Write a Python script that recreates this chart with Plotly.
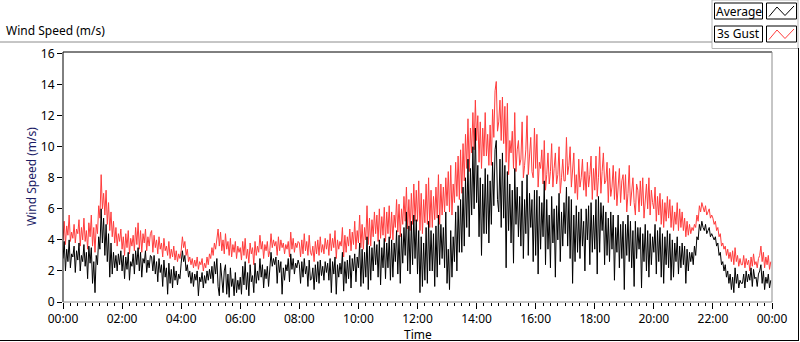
import plotly.graph_objects as go
import pandas as pd

# 3s gust (m/s), one value every 2.5 minutes (24 per hour)
gust = [
    4.0,5.2,3.7,4.9,4.3,5.6,3.9,4.5,4.1,5.0,3.8,4.7,4.4,5.3,3.6,4.8,4.0,5.4,3.9,4.6,3.4,5.1,4.2,5.6,
    3.6,4.8,3.2,5.0,4.4,6.2,5.4,8.2,6.0,7.0,5.6,7.2,5.0,6.4,4.6,5.8,4.2,5.2,3.8,4.8,3.6,4.4,3.9,4.7,
    3.4,4.2,3.0,4.4,3.5,4.6,3.1,4.1,3.6,4.3,3.3,4.8,3.7,5.1,3.4,4.6,3.2,4.4,3.8,4.7,3.3,4.2,3.6,4.4,
    4.6,3.2,4.3,3.5,4.0,3.1,4.2,3.4,3.8,2.9,4.1,3.3,3.6,3.0,3.9,2.8,3.4,2.9,3.6,2.7,3.3,2.6,3.1,2.8,
    3.3,4.2,3.5,3.9,3.0,3.4,2.6,2.9,2.4,2.8,2.2,2.7,2.3,2.9,2.1,2.6,2.4,2.8,2.0,2.5,2.2,2.9,2.4,3.1,
    2.8,3.5,3.0,3.8,3.4,4.2,4.7,3.6,4.5,3.3,4.0,3.1,4.4,3.4,3.9,3.0,4.1,2.9,3.7,3.2,3.9,2.8,3.6,3.2,
    3.5,2.7,3.9,3.0,4.1,2.8,3.4,2.5,3.8,3.1,3.5,2.4,3.9,3.0,3.6,3.2,4.3,3.4,3.9,2.8,3.7,3.3,3.9,2.9,
    3.3,4.4,3.5,4.0,3.6,3.9,3.0,4.2,3.3,4.0,3.5,3.8,3.1,3.7,3.4,3.9,2.9,4.5,3.4,4.1,3.2,3.8,3.5,3.9,
    3.8,2.9,4.0,3.1,4.4,3.3,3.9,3.0,4.3,3.2,3.0,3.6,2.6,3.9,3.1,4.0,3.0,4.2,3.2,3.7,3.1,4.1,3.4,4.0,
    3.0,4.4,3.3,4.1,3.5,4.6,2.8,4.0,3.4,3.9,3.6,4.8,2.9,4.3,3.2,4.2,3.6,4.7,3.3,4.5,3.7,5.2,3.4,4.6,
    3.8,5.6,3.5,5.0,3.4,4.8,4.0,6.2,3.7,5.4,3.6,5.3,4.2,5.8,4.4,5.6,3.9,6.0,4.1,5.5,4.3,6.1,3.9,5.8,
    4.4,6.2,4.1,5.8,4.0,5.6,4.8,6.6,4.5,6.3,4.2,6.0,5.0,6.8,5.2,7.4,4.7,6.6,4.6,7.0,5.0,7.6,5.2,7.2,
    5.2,7.8,4.6,7.0,4.4,6.6,5.1,7.6,5.0,8.0,4.8,7.2,4.8,6.8,5.3,7.4,5.4,8.2,5.0,7.6,5.6,7.4,5.8,8.0,
    6.2,8.4,5.8,8.8,5.6,7.6,6.4,9.0,6.8,9.4,6.6,9.8,7.0,10.2,7.8,10.8,8.6,11.8,8.4,11.2,9.6,12.2,9.8,13.0,
    10.4,12.0,9.0,11.6,8.6,11.2,9.4,12.2,9.4,10.8,8.8,11.4,8.8,12.4,10.6,13.6,14.2,11.0,11.6,13.0,10.4,13.2,10.2,12.6,
    9.0,12.8,8.2,10.4,9.6,11.0,8.6,12.2,8.4,9.8,10.4,8.8,9.2,11.6,8.0,8.8,9.8,12.0,8.2,9.4,10.6,8.4,8.0,11.2,
    8.6,10.8,7.4,9.0,8.6,9.8,7.6,10.4,7.2,8.2,9.6,7.6,8.4,10.2,7.4,8.6,9.6,7.6,8.2,10.0,7.0,8.0,9.2,7.8,
    7.8,10.6,8.2,8.8,10.0,7.4,8.4,9.6,7.0,8.2,6.6,9.2,7.4,8.0,9.2,7.2,8.4,6.8,9.0,7.4,8.2,9.4,6.6,8.6,
    7.2,9.4,6.8,8.0,10.0,7.0,8.4,9.6,7.6,7.8,9.0,6.4,8.6,6.8,7.4,8.8,6.6,8.4,6.2,7.4,8.6,6.4,7.8,8.2,
    6.6,8.2,5.8,7.0,8.8,6.2,7.2,8.0,6.4,5.6,7.6,7.2,5.8,7.8,6.2,8.0,5.4,6.6,7.6,6.0,8.0,5.6,7.2,6.4,
    6.0,7.4,5.2,6.8,5.6,7.0,5.0,6.6,4.8,6.4,5.2,6.8,5.4,6.6,4.8,6.2,4.6,5.8,5.0,6.4,4.6,6.0,4.8,5.8,
    4.6,5.4,4.2,5.2,4.3,5.0,4.4,4.8,4.6,5.0,4.8,5.6,5.2,6.2,5.8,6.4,6.0,5.8,6.2,5.6,5.8,6.0,5.4,5.6,
    5.4,5.0,5.2,4.6,4.8,4.2,4.4,3.6,3.8,3.4,3.6,3.0,3.4,2.8,3.2,2.6,3.3,2.4,3.5,2.6,3.0,2.3,2.8,2.4,
    2.4,3.0,2.2,2.8,2.4,2.7,2.0,2.9,2.3,3.1,2.4,2.6,2.2,2.8,3.0,3.6,2.6,3.2,2.2,2.9,2.4,3.0,2.1,2.6,
]

# average wind speed (m/s), same times
average = [
    2.8,3.9,2.0,3.4,2.6,4.0,2.2,3.1,2.9,3.6,1.9,3.3,2.7,3.8,2.0,3.0,2.6,3.7,2.3,3.2,1.5,3.6,2.5,3.5,
    1.2,2.6,0.6,3.0,2.4,4.2,3.4,6.0,3.8,5.4,3.0,5.0,2.6,4.4,1.6,3.8,1.8,3.2,2.2,3.0,2.0,3.1,2.4,3.3,
    2.0,3.0,1.5,2.9,2.1,3.2,1.4,2.6,2.3,3.1,1.8,3.3,2.4,3.5,2.0,3.2,1.6,2.8,2.5,3.3,1.9,2.7,2.2,3.0,
    2.9,2.0,3.0,1.8,2.6,1.3,2.8,1.9,2.4,1.0,2.7,1.6,2.2,0.5,2.5,1.2,2.1,0.9,2.3,1.4,2.0,1.1,1.8,1.5,
    2.5,3.3,2.6,3.0,2.0,2.4,1.6,2.0,1.2,1.9,1.0,1.8,1.4,2.0,0.4,1.6,1.3,1.9,0.9,1.7,1.2,2.0,1.4,2.1,
    1.5,2.3,1.2,2.6,1.8,2.8,1.0,0.4,2.5,1.4,0.6,2.0,2.4,0.5,1.8,0.3,2.2,1.0,1.5,0.4,1.9,0.6,1.4,0.8,
    1.6,0.5,2.3,1.1,2.6,0.8,1.9,0.4,2.4,1.3,1.7,0.6,2.5,1.2,2.0,1.4,2.8,1.6,2.4,0.9,2.1,1.5,2.3,1.0,
    2.1,3.2,2.3,2.8,2.4,2.9,1.2,2.7,1.9,2.6,0.5,2.2,1.4,2.4,2.0,2.8,1.3,3.1,2.1,2.8,1.8,2.5,2.2,2.7,
    2.4,1.2,2.6,1.6,2.8,1.8,2.3,1.0,2.7,1.4,1.5,2.2,0.8,2.4,1.3,2.6,1.2,2.7,1.7,2.3,1.4,2.6,1.9,2.5,
    1.4,2.8,0.6,2.6,1.8,2.9,0.5,2.4,1.6,2.5,1.8,3.2,0.7,2.6,1.2,2.7,1.5,3.0,0.9,2.8,2.0,3.1,1.3,2.9,
    2.2,3.8,1.0,3.4,1.2,3.2,1.6,4.2,0.8,3.6,1.4,3.5,2.0,3.9,2.4,3.7,1.6,4.0,1.1,3.5,2.2,4.1,1.5,3.8,
    2.2,4.2,1.4,4.0,1.6,3.8,2.6,4.6,1.8,4.3,1.2,4.4,2.5,4.8,3.0,5.8,2.0,4.9,1.8,5.2,2.4,5.6,2.8,5.3,
    1.8,4.6,0.6,4.2,1.0,3.8,1.4,4.8,1.2,5.2,2.0,4.6,2.0,4.4,1.0,4.9,1.6,5.6,2.4,5.0,2.8,4.8,2.2,5.8,
    1.2,3.4,0.8,4.6,1.6,4.2,2.6,5.8,2.0,6.2,3.2,6.6,3.2,7.4,3.6,8.0,4.8,9.2,4.2,8.6,5.6,10.0,6.0,11.2,
    6.4,8.8,4.2,8.0,3.0,7.6,4.4,8.6,4.4,8.2,3.8,7.8,5.0,9.0,6.2,9.8,10.4,6.6,5.8,9.2,4.8,9.6,5.4,8.8,
    2.2,8.4,4.6,7.6,3.8,7.2,2.5,8.6,5.0,7.4,4.2,6.8,3.6,7.8,2.8,6.6,4.4,8.2,3.0,7.0,4.8,6.6,2.6,7.2,
    3.0,7.2,1.8,6.8,3.4,6.4,4.2,7.8,2.4,6.6,3.4,5.6,2.2,6.8,3.8,6.0,1.6,6.2,4.0,7.0,2.6,5.8,3.6,6.4,
    4.4,7.4,3.6,6.8,2.8,6.6,1.2,5.6,2.6,6.2,3.2,5.8,2.8,6.0,3.6,5.2,2.0,6.0,4.0,6.2,2.4,6.4,3.2,5.6,
    3.4,6.6,1.8,6.8,3.2,6.4,4.6,6.2,2.4,5.8,3.0,5.4,2.6,5.8,3.4,5.6,1.4,4.8,3.2,5.6,2.2,5.0,2.8,5.2,
    0.8,5.0,3.0,5.6,2.6,5.2,2.2,4.6,1.0,5.2,2.8,4.8,3.4,4.8,0.9,4.4,2.6,5.0,2.0,4.6,1.6,4.4,2.4,4.2,
    3.2,5.0,1.8,4.6,2.6,4.8,1.6,4.4,1.2,4.2,2.4,4.6,2.2,4.4,1.4,4.0,1.6,3.8,2.6,4.2,1.8,3.6,2.2,3.8,
    2.4,3.6,1.2,3.4,2.0,3.2,2.6,3.2,2.4,3.6,3.0,4.2,4.0,5.0,4.6,5.2,4.8,4.6,5.0,4.4,4.6,4.8,4.2,4.4,
    4.2,4.0,4.2,3.6,3.8,3.0,3.2,2.4,2.6,2.0,2.4,1.6,2.0,1.2,1.8,0.8,1.6,0.6,2.2,1.2,1.8,0.9,1.4,1.2,
    1.2,1.8,0.9,2.0,1.3,1.8,1.4,2.2,1.0,2.1,1.5,1.6,1.0,1.8,2.0,2.4,1.2,2.0,0.8,1.6,1.2,1.8,0.9,1.4,
]

x_tick_labels = ["00:00", "02:00", "04:00", "06:00", "08:00", "10:00", "12:00",
                 "14:00", "16:00", "18:00", "20:00", "22:00", "00:00"]
y_tick_vals = [0, 2, 4, 6, 8, 10, 12, 14, 16]
series_names = ["Average", "3s Gust"]

start = pd.Timestamp("2024-01-01 00:00")
times_gust = pd.date_range(start, periods=len(gust), freq="150s")
times_avg = pd.date_range(start, periods=len(average), freq="150s")
tick_times = pd.date_range(start, periods=len(x_tick_labels), freq="2h")

RED = "#ff3c3c"
FONT = "Noto Sans"

fig = go.Figure()
fig.add_trace(go.Scatter(x=times_gust, y=gust, mode="lines", name=series_names[1],
                         line=dict(color=RED, width=1), showlegend=False,
                         hoverinfo="skip"))
fig.add_trace(go.Scatter(x=times_avg, y=average, mode="lines", name=series_names[0],
                         line=dict(color="black", width=1), showlegend=False,
                         hoverinfo="skip"))

L, R, T, B = 63, 772, 52, 302
W, H = 800, 342
pw, ph = R - L, B - T


def px(x):
    return (x - L) / pw


def py(y):
    return (B - y) / ph


shapes = []
# plot border: black top/left, gray bottom/right
shapes.append(dict(type="line", xref="paper", yref="paper", x0=0, x1=1, y0=1, y1=1,
                   line=dict(color="black", width=1)))
shapes.append(dict(type="line", xref="paper", yref="paper", x0=0, x1=0, y0=0, y1=1,
                   line=dict(color="black", width=1)))
shapes.append(dict(type="line", xref="paper", yref="paper", x0=1, x1=1, y0=0, y1=1,
                   line=dict(color="#8c8c8c", width=1)))
shapes.append(dict(type="line", xref="paper", yref="paper", x0=0, x1=1, y0=0, y1=0,
                   line=dict(color="#8c8c8c", width=1)))
# outer frame
shapes.append(dict(type="line", xref="paper", yref="paper", x0=px(0), x1=px(712),
                   y0=py(42), y1=py(42), line=dict(color="#8c8c8c", width=1)))
shapes.append(dict(type="line", xref="paper", yref="paper", x0=px(798.5), x1=px(798.5),
                   y0=py(48), y1=py(341), line=dict(color="black", width=1)))
shapes.append(dict(type="line", xref="paper", yref="paper", x0=px(0), x1=px(799),
                   y0=py(340.5), y1=py(340.5), line=dict(color="black", width=1)))
# legend panel
shapes.append(dict(type="rect", xref="paper", yref="paper", x0=px(712), x1=px(798),
                   y0=py(0), y1=py(48.5), line=dict(color="#b4b4b4", width=1),
                   fillcolor="white", layer="below"))
# legend boxes
for i, (y0, y1) in enumerate([(3, 19), (26, 42)]):
    shapes.append(dict(type="rect", xref="paper", yref="paper", x0=px(714.5), x1=px(762.5),
                       y0=py(y0), y1=py(y1), line=dict(color="black", width=1),
                       fillcolor="white"))
    shapes.append(dict(type="rect", xref="paper", yref="paper", x0=px(766.5), x1=px(796.5),
                       y0=py(y0), y1=py(y1), line=dict(color="black", width=1),
                       fillcolor="white"))
    col = "black" if i == 0 else RED
    pts = [(769, y1 - 2.5), (777, y0 + 4), (785, y1 - 3.5), (794, y0 + 3)]
    path = "M " + " L ".join(f"{px(a):.5f},{py(b):.5f}" for a, b in pts)
    shapes.append(dict(type="path", xref="paper", yref="paper", path=path,
                       line=dict(color=col, width=1)))

annotations = [
    dict(text="Wind Speed (m/s)", xref="paper", yref="paper", x=px(4), y=py(31),
         xanchor="left", yanchor="middle", showarrow=False,
         font=dict(family=FONT, size=12, color="black")),
    dict(text="Wind Speed (m/s)", xref="paper", yref="paper", x=px(31), y=0.5,
         xanchor="center", yanchor="middle", textangle=-90, showarrow=False,
         font=dict(family=FONT, size=12, color="#1c1c66")),
    dict(text="Time", xref="paper", yref="paper", x=0.5, y=py(334.5),
         xanchor="center", yanchor="middle", showarrow=False,
         font=dict(family=FONT, size=12, color="black")),
    dict(text=series_names[0], xref="paper", yref="paper", x=px(738.5), y=py(11),
         xanchor="center", yanchor="middle", showarrow=False,
         font=dict(family=FONT, size=12, color="black")),
    dict(text=series_names[1], xref="paper", yref="paper", x=px(738.5), y=py(34),
         xanchor="center", yanchor="middle", showarrow=False,
         font=dict(family=FONT, size=12, color="black")),
]

fig.update_layout(
    width=W, height=H,
    margin=dict(l=L, r=W - R, t=T, b=H - B, pad=0),
    paper_bgcolor="white", plot_bgcolor="white",
    shapes=shapes, annotations=annotations,
    font=dict(family=FONT, size=12, color="black"),
    xaxis=dict(
        type="date",
        range=[start, start + pd.Timedelta(hours=24)],
        tickmode="array", tickvals=tick_times, ticktext=x_tick_labels,
        ticks="outside", ticklen=6, tickcolor="black", tickwidth=1,
        showgrid=False, zeroline=False, showline=False,
        tickfont=dict(family=FONT, size=12, color="black"),
        minor=dict(dtick=15 * 60 * 1000, ticks="outside", ticklen=3,
                   tickcolor="black", showgrid=False),
    ),
    yaxis=dict(
        range=[0, 16.1],
        tickmode="array", tickvals=y_tick_vals,
        ticks="outside", ticklen=5, tickcolor="black", tickwidth=1,
        showgrid=False, zeroline=False, showline=False,
        tickfont=dict(family=FONT, size=12, color="black"),
    ),
)

fig.write_html("out.html", config={"displayModeBar": False},
               post_script="document.body.style.margin='0';document.body.style.overflow='hidden';")
